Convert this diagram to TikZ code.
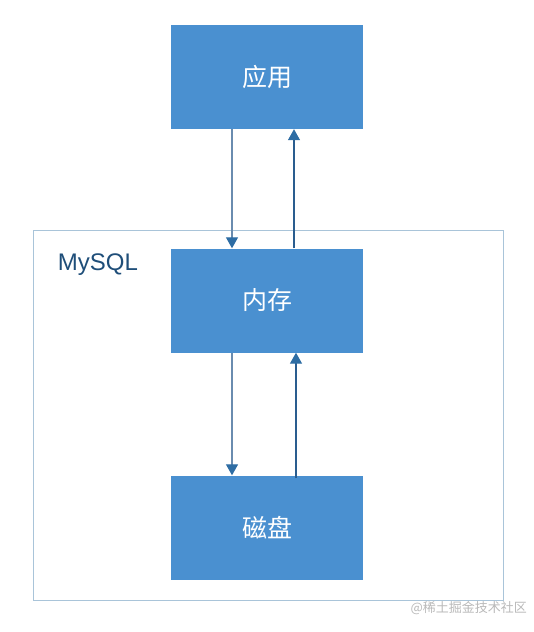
\documentclass[tikz,border=0pt]{standalone}
\usepackage{fontspec}
\setmainfont{Liberation Sans}
\newfontfamily\cjk{Noto Sans CJK SC}
\usetikzlibrary{arrows.meta}
\usetikzlibrary{backgrounds}
\definecolor{boxblue}{HTML}{4A90D0}
\definecolor{framegray}{HTML}{A9C4D9}
\definecolor{downline}{HTML}{6A8CAF}
\definecolor{upline}{HTML}{2A5D8F}
\definecolor{headblue}{HTML}{2E6DA4}
\definecolor{labelblue}{HTML}{1F4E79}

\begin{document}
\begin{tikzpicture}[x=1pt,y=-1pt,every node/.style={inner sep=0pt},layer/.style={rectangle,fill=boxblue,minimum width=192pt,minimum height=104pt,text=white,font=\cjk\fontsize{25}{29}\selectfont},frame/.style={rectangle,draw=framegray,line width=1pt,minimum width=470pt,minimum height=370pt},down/.style={draw=downline,line width=1.3pt,-{Triangle[length=11pt,width=12pt,color=headblue]}},up/.style={draw=upline,line width=1.3pt,-{Triangle[length=11pt,width=12pt,color=headblue]}}]
	\useasboundingbox (0,0) rectangle (534,632);
	\node[frame] (mysql) at (268,415) {};
	\node[text=labelblue,font=\fontsize{24}{28}\selectfont] (name) at (98,265) {MySQL};
	\node[layer] (app) at (267,77) {应用};
	\node[layer] (mem) at (267,300.5) {内存};
	\node[layer] (disk) at (267,527.5) {磁盘};
	% app <-> mem
	\draw[down] ([xshift=-35pt]app.south) -- ([xshift=-35pt]mem.north);
	\draw[up] ([xshift=27pt]mem.north) -- ([xshift=27pt]app.south);
	% mem <-> disk
	\draw[down] ([xshift=-35pt]mem.south) -- ([xshift=-35pt]disk.north);
	\draw[up] ([xshift=29pt,yshift=-3pt]disk.north) -- ([xshift=29pt]mem.south);
	\node[text=gray!55,font=\cjk\fontsize{13}{15}\selectfont,anchor=east] (mark) at (527,608) {@稀土掘金技术社区};
\end{tikzpicture}
\end{document}
